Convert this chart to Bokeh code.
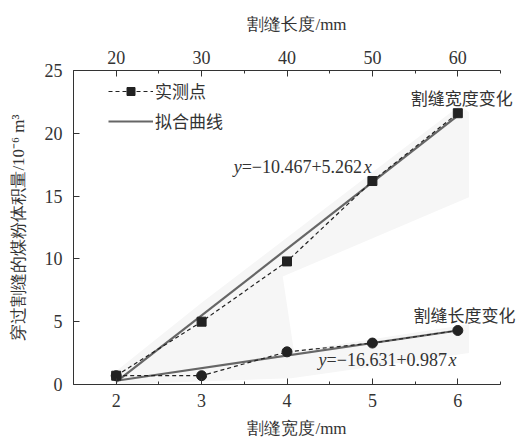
from bokeh.plotting import figure
from bokeh.models import (Range1d, LinearAxis, SingleIntervalTicker, Label,
                          Legend, LegendItem)
from bokeh.embed import file_html
from bokeh.resources import INLINE

# ---- data ----
width_mm = [2, 3, 4, 5, 6]                 # 割缝宽度/mm (bottom axis)
length_mm = [20, 30, 40, 50, 60]           # 割缝长度/mm (top axis)
vol_width = [0.7, 5.0, 9.8, 16.2, 21.6]    # 割缝宽度变化 measured
vol_length = [0.7, 0.7, 2.6, 3.3, 4.3]     # 割缝长度变化 measured
fit_width_x = [2, 6]
fit_width_y = [0.2, 21.4]
fit_length_x = [2, 6]
fit_length_y = [0.3, 4.3]
# light confidence bands
band_w_x = [2.0, 1.95, 3.0, 6.02, 6.13, 6.13, 3.95, 4.08, 2.0]
band_w_y = [0.0, 0.8, 6.5, 22.2, 21.7, 14.9, 8.6, 2.7, 0.0]
band_l_x = [2.0, 1.95, 6.13, 6.13, 4.05, 2.0]
band_l_y = [0.0, 0.4, 4.8, 2.5, 0.5, 0.0]
eq_width = ("y", "=−10.467+5.262", "x")
eq_length = ("y", "=−16.631+0.987", "x")

SERIF = "Liberation Serif"
CJK = "Noto Sans CJK SC"
TXT = "#333333"

# axes end at 6.5 / 65; frame is a bit wider so the side notes are not clipped
p = figure(width=520, height=440, x_range=Range1d(1.5, 6.734), y_range=Range1d(0, 25),
           output_backend="svg", toolbar_location=None,
           min_border_left=73, min_border_right=0, min_border_top=70, min_border_bottom=53)
p.outline_line_color = None
p.grid.visible = False
p.background_fill_color = "white"

p.extra_x_ranges = {"len": Range1d(15, 67.34)}
top = LinearAxis(x_range_name="len", ticker=SingleIntervalTicker(interval=10, num_minor_ticks=2),
                 axis_label="割缝长度/mm", bounds=(15, 65))
p.add_layout(top, "above")

bottom = p.below[0]
bottom.ticker = SingleIntervalTicker(interval=1, num_minor_ticks=2)
bottom.axis_label = "割缝宽度/mm"
bottom.bounds = (1.5, 6.5)
left = p.left[0]
left.ticker = SingleIntervalTicker(interval=5, num_minor_ticks=0)
left.axis_label = "穿过割缝的煤粉体积量/10⁻⁶ m³"

for ax in (top, bottom, left):
    ax.axis_line_color = TXT
    ax.major_tick_line_color = TXT
    ax.minor_tick_line_color = TXT
    ax.major_tick_in = 6
    ax.major_tick_out = 0
    ax.minor_tick_in = 3
    ax.minor_tick_out = 0
    ax.major_label_text_font = SERIF
    ax.major_label_text_font_size = "18px"
    ax.major_label_text_color = TXT
    ax.axis_label_text_font = SERIF
    ax.axis_label_text_font_size = "17px"
    ax.axis_label_text_font_style = "normal"
    ax.axis_label_text_color = TXT
left.minor_tick_line_color = None
left.major_label_standoff = 11
left.axis_label_standoff = 14
bottom.major_label_standoff = 9
bottom.axis_label_standoff = 9
top.major_label_standoff = 7
top.axis_label_standoff = 14

BAND = "#f6f6f6"
p.patch(band_w_x, band_w_y, fill_color=BAND, line_color=None)
p.patch(band_l_x, band_l_y, fill_color=BAND, line_color=None)

DARK = "#222222"
FIT = "#666666"
r_fw = p.line(fit_width_x, fit_width_y, line_color=FIT, line_width=2.2)
p.line(fit_length_x, fit_length_y, line_color=FIT, line_width=2.2)
r_dw = p.line(width_mm, vol_width, line_color=DARK, line_width=1.2, line_dash="4 3")
p.line(width_mm, vol_length, line_color=DARK, line_width=1.2, line_dash="4 3")
r_sq = p.scatter(width_mm, vol_width, marker="square", size=9, fill_color=DARK, line_color=DARK)
p.scatter(width_mm, vol_length, marker="circle", size=10, fill_color=DARK, line_color=DARK)

legend = Legend(items=[LegendItem(label="实测点", renderers=[r_dw, r_sq]),
                       LegendItem(label="拟合曲线", renderers=[r_fw])],
                location=(35, 251), orientation="vertical",
                glyph_width=45, glyph_height=20, label_height=20, spacing=5,
                padding=0, margin=0, label_standoff=2,
                label_text_font=CJK, label_text_font_size="17px", label_text_color=TXT,
                background_fill_alpha=0, border_line_color=None)
p.add_layout(legend, "center")

def note(x, y, txt):
    p.add_layout(Label(x=x, y=y, text=txt, text_font=CJK, text_font_size="17px",
                       text_color=TXT, text_align="left", text_baseline="middle"))

note(5.448, 22.87, "割缝宽度变化")
note(5.48, 5.6, "割缝长度变化")

def equation(x, y, parts):
    a, b, c = parts
    p.add_layout(Label(x=x, y=y, text=a, text_font=SERIF, text_font_size="18px",
                       text_font_style="italic", text_color=TXT, text_align="left",
                       text_baseline="middle"))
    p.add_layout(Label(x=x, y=y, x_offset=8, text=b, text_font=SERIF,
                       text_font_size="18px", text_color=TXT, text_align="left",
                       text_baseline="middle"))
    p.add_layout(Label(x=x, y=y, x_offset=8 + 122, text=c, text_font=SERIF,
                       text_font_size="18px", text_font_style="italic", text_color=TXT,
                       text_align="left", text_baseline="middle"))

equation(3.375, 17.35, eq_width)
equation(4.37, 1.97, eq_length)

open("out.html", "w").write(file_html(p, INLINE))
